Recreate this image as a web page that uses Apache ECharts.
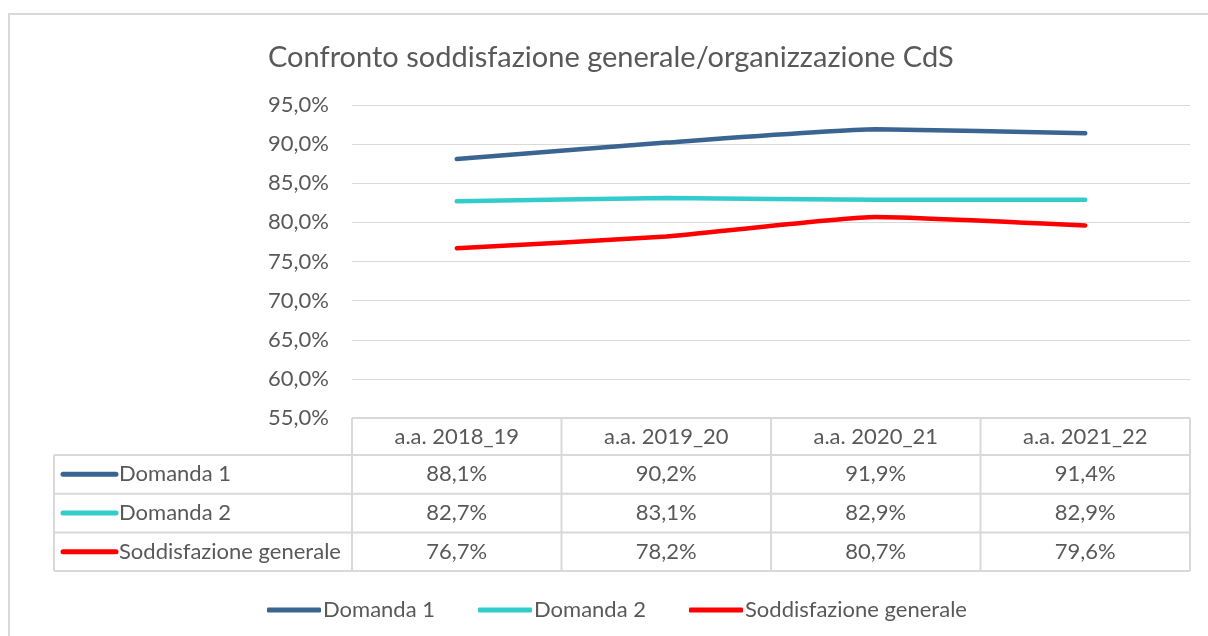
<!DOCTYPE html>
<html>
<head>
<meta charset="utf-8">
<script src="https://cdn.jsdelivr.net/npm/echarts@6/dist/echarts.min.js"></script>
<style>
  html, body { margin: 0; padding: 0; background: #fff; }
  #main { width: 1208px; height: 636px; }
</style>
</head>
<body>
<div id="main"></div>
<script>
// dati
var categories = ['a.a. 2018_19', 'a.a. 2019_20', 'a.a. 2020_21', 'a.a. 2021_22']
var domanda1 = [88.1, 90.2, 91.9, 91.4]
var domanda2 = [82.7, 83.1, 82.9, 82.9]
var soddisfazione = [76.7, 78.2, 80.7, 79.6]
var seriesNames = ['Domanda 1', 'Domanda 2', 'Soddisfazione generale']
var seriesColors = ['#3a6491', '#33cccc', '#ff0000']

var FONT = 'Lato'
var FS = 22
var TXT = '#595959'
var BORDER = '#d9d9d9'

function fmt (v) {
  return v.toFixed(1).replace('.', ',') + '%'
}

var chart = echarts.init(document.getElementById('main'))

var allData = [domanda1, domanda2, soddisfazione]

chart.setOption({
  animation: false,
  textStyle: { fontFamily: FONT },
  title: {
    text: 'Confronto soddisfazione generale/organizzazione CdS',
    left: 263,
    top: 38,
    textStyle: { fontFamily: FONT, fontSize: 29, fontWeight: 'normal', color: TXT }
  },
  grid: { left: 352, right: 18, top: 105, bottom: 218 },
  legend: {
    top: 594,
    left: 262,
    itemWidth: 54,
    itemHeight: 5,
    itemGap: 43,
    icon: 'roundRect',
    textStyle: { fontFamily: FONT, fontSize: FS, color: TXT, padding: [0, 0, 0, -3] },
    data: seriesNames
  },
  xAxis: {
    type: 'category',
    data: categories,
    boundaryGap: true,
    axisLine: { show: false },
    axisTick: { show: false },
    axisLabel: { margin: 8, fontSize: FS, color: TXT, fontFamily: FONT }
  },
  yAxis: {
    type: 'value',
    min: 55,
    max: 95,
    interval: 5,
    axisLine: { show: false },
    axisTick: { show: false },
    splitLine: { lineStyle: { color: BORDER, width: 1 } },
    axisLabel: { margin: 23, fontSize: FS, color: TXT, fontFamily: FONT, formatter: fmt }
  },
  series: seriesNames.map(function (name, i) {
    return {
      name: name,
      type: 'line',
      data: allData[i],
      symbol: 'none',
      smooth: 0.15,
      color: seriesColors[i],
      lineStyle: { width: 4.5, cap: 'round' }
    }
  })
})

// tabella dati sotto il grafico
function buildTable () {
  var g = []
  var centers = categories.map(function (c) {
    return chart.convertToPixel({ xAxisIndex: 0 }, c)
  })
  var band = centers.length > 1 ? centers[1] - centers[0] : 200
  var x0 = centers[0] - band / 2
  var x1 = centers[centers.length - 1] + band / 2
  var yTop = chart.convertToPixel({ yAxisIndex: 0 }, 55)
  var rowH = 38.7
  var headH = 37
  var leftX = 54
  var rows = [yTop + headH, yTop + headH + rowH, yTop + headH + 2 * rowH, yTop + headH + 3 * rowH]
  var ls = { stroke: BORDER, lineWidth: 2 }

  // bordo esterno del grafico
  g.push({ type: 'rect', shape: { x: 9, y: 14, width: 1220, height: 660 }, style: { fill: 'none', stroke: BORDER, lineWidth: 2 }, silent: true })

  g.push({ type: 'line', shape: { x1: x0, y1: yTop, x2: x1, y2: yTop }, style: ls })
  rows.forEach(function (y) {
    g.push({ type: 'line', shape: { x1: leftX, y1: y, x2: x1, y2: y }, style: ls })
  })
  g.push({ type: 'line', shape: { x1: leftX, y1: rows[0], x2: leftX, y2: rows[3] }, style: ls })
  for (var k = 0; k <= categories.length; k++) {
    var xx = x0 + k * band
    g.push({ type: 'line', shape: { x1: xx, y1: yTop, x2: xx, y2: rows[3] }, style: ls })
  }

  seriesNames.forEach(function (name, i) {
    var cy = (rows[i] + rows[i + 1]) / 2
    g.push({ type: 'line', shape: { x1: 63, y1: cy, x2: 116, y2: cy }, style: { stroke: seriesColors[i], lineWidth: 5, lineCap: 'round' } })
    g.push({ type: 'text', x: 119, y: cy, style: { text: name, font: FS + 'px ' + FONT, fill: TXT, verticalAlign: 'middle' } })
    allData[i].forEach(function (v, j) {
      g.push({ type: 'text', x: centers[j], y: cy, style: { text: fmt(v), font: FS + 'px ' + FONT, fill: TXT, align: 'center', verticalAlign: 'middle' } })
    })
  })

  chart.setOption({ graphic: g })
}
buildTable()
</script>
</body>
</html>
